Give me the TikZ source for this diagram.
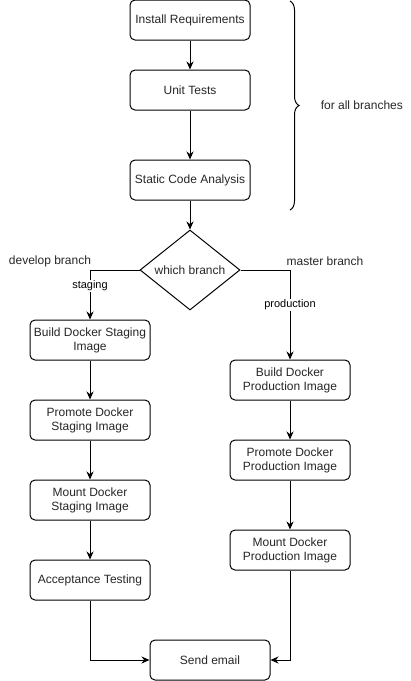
\documentclass[tikz,border=0pt]{standalone}
\usepackage{fontspec}
\setmainfont{Liberation Sans}
\usetikzlibrary{arrows.meta,shapes.geometric,decorations.pathreplacing}
\begin{document}
\begin{tikzpicture}[x=1pt,y=-1pt,line width=1pt,
  box/.style={draw,rounded corners=5pt,minimum width=120pt,minimum height=40pt,
    align=center,font=\fontsize{12}{14}\selectfont,text=black!85},
  arr/.style={-{Stealth[length=8pt,width=7pt]}},
  lbl/.style={fill=white,inner sep=1pt,font=\fontsize{11}{13}\selectfont},
  txt/.style={font=\fontsize{12}{14}\selectfont,text=black!85}]
  \useasboundingbox (0,0) rectangle (411,681);
  \node[box] (I) at (190,20) {Install Requirements};
  \node[box] (U) at (190,90) {Unit Tests};
  \node[box] (S) at (190,180) {Static Code Analysis};
  \node[draw,diamond,aspect=1.25,minimum width=100pt,minimum height=80pt,inner sep=0pt,
    font=\fontsize{12}{14}\selectfont,text=black!85] (W) at (190,270) {which branch};
  \node[box] (BS) at (90,340) {Build Docker Staging\\Image};
  \node[box] (PS) at (90,420) {Promote Docker\\Staging Image};
  \node[box] (MS) at (90,500) {Mount Docker\\Staging Image};
  \node[box] (AT) at (90,580) {Acceptance Testing};
  \node[box] (BP) at (290,380) {Build Docker\\Production Image};
  \node[box] (PP) at (290,460) {Promote Docker\\Production Image};
  \node[box] (MP) at (290,550) {Mount Docker\\Production Image};
  \node[box] (E) at (210,660) {Send email};
  \node[txt] (dev) at (50,261) {develop branch};
  \node[txt] (mas) at (325,261) {master branch};
  \node[txt,anchor=west] (all) at (317,105) {for all branches};
  \draw[arr] (I) -- (U);
  \draw[arr] (U) -- (S);
  \draw[arr] (S) -- (W);
  \draw[arr] (W.west) -| node[lbl,pos=0.66] {staging} (BS);
  \draw[arr] (W.east) -| node[lbl,pos=0.695] {production} (BP);
  \draw[arr] (BS) -- (PS);
  \draw[arr] (PS) -- (MS);
  \draw[arr] (MS) -- (AT);
  \draw[arr] (BP) -- (PP);
  \draw[arr] (PP) -- (MP);
  \draw[arr] (AT) |- (E);
  \draw[arr] (MP) |- (E);
  \draw[decorate,decoration={brace,amplitude=9pt}] (290,1) -- (290,210);
\end{tikzpicture}
\end{document}
